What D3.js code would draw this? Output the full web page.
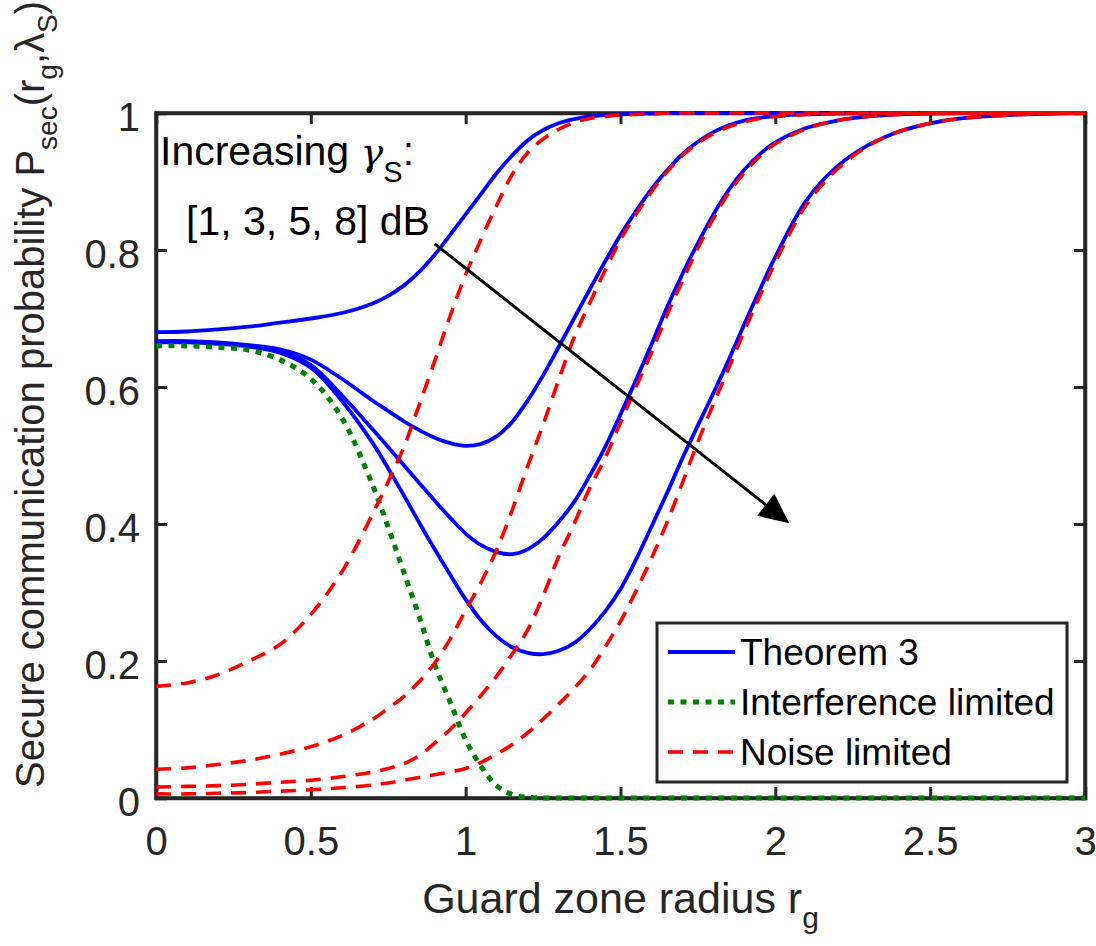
<!DOCTYPE html>
<html><head><meta charset="utf-8">
<script src="https://cdn.jsdelivr.net/npm/d3@7"></script>
<style>body{margin:0;background:#fff}</style>
</head><body>
<svg id="chart" width="1096" height="946"></svg>
<script>
// Guard zone radius grid (x values)
const rg = [0, 0.1, 0.2, 0.3, 0.4, 0.5, 0.6, 0.7, 0.75, 0.8, 0.85, 0.9, 0.95, 1.0, 1.05, 1.1, 1.15, 1.2, 1.25, 1.3,
            1.35, 1.4, 1.45, 1.5, 1.55, 1.6, 1.65, 1.7, 1.75, 1.8, 1.85, 1.9, 1.95, 2.0, 2.1, 2.2, 2.3, 2.4, 2.5, 2.6, 2.8, 3.0];

// Theorem 3 (solid blue), gamma_S = 1, 3, 5, 8 dB
const thm3_1dB = [0.680,0.681,0.684,0.688,0.694,0.700,0.708,0.722,0.733,0.748,0.768,0.793,0.822,0.852,0.882,0.912,0.938,0.960,0.975,0.985,
                  0.991,0.995,0.997,0.998,0.999,0.999,1,1,1,1,1,1,1,1,1,1,1,1,1,1,1,1];
const thm3_3dB = [0.667,0.667,0.665,0.661,0.655,0.640,0.612,0.580,0.565,0.550,0.537,0.526,0.518,0.514,0.517,0.528,0.549,0.580,0.617,0.658,
                  0.700,0.742,0.783,0.822,0.857,0.889,0.916,0.940,0.958,0.972,0.982,0.989,0.993,0.996,0.998,0.999,1,1,1,1,1,1];
const thm3_5dB = [0.666,0.666,0.664,0.660,0.652,0.632,0.588,0.538,0.512,0.486,0.460,0.434,0.409,0.386,0.369,0.359,0.356,0.363,0.379,0.403,
                  0.432,0.470,0.512,0.560,0.610,0.662,0.716,0.765,0.810,0.852,0.888,0.917,0.940,0.957,0.978,0.989,0.995,0.998,0.999,1,1,1];
const thm3_8dB = [0.665,0.665,0.663,0.659,0.650,0.628,0.580,0.518,0.481,0.442,0.402,0.363,0.326,0.290,0.259,0.236,0.220,0.212,0.210,0.215,
                  0.226,0.246,0.272,0.305,0.348,0.396,0.445,0.496,0.544,0.591,0.640,0.692,0.742,0.790,0.872,0.922,0.953,0.973,0.985,0.992,0.998,1.0];

// Interference limited (dotted green)
const interf = [0.660,0.660,0.658,0.654,0.640,0.612,0.555,0.456,0.395,0.330,0.265,0.195,0.140,0.085,0.046,0.018,0.005,0.001,0,0,
                0,0,0,0,0,0,0,0,0,0,0,0,0,0,0,0,0,0,0,0,0,0];

// Noise limited (dashed red), gamma_S = 1, 3, 5, 8 dB
const noise_1dB = [0.163,0.168,0.180,0.200,0.224,0.268,0.330,0.415,0.462,0.512,0.574,0.638,0.704,0.764,0.816,0.865,0.910,0.942,0.962,0.976,
                   0.986,0.992,0.995,0.997,0.998,0.999,1,1,1,1,1,1,1,1,1,1,1,1,1,1,1,1];
const noise_3dB = [0.042,0.044,0.049,0.055,0.064,0.075,0.091,0.115,0.131,0.148,0.170,0.197,0.232,0.274,0.315,0.362,0.420,0.484,0.545,0.610,
                   0.672,0.722,0.770,0.815,0.852,0.885,0.914,0.938,0.956,0.970,0.980,0.987,0.992,0.995,0.998,0.999,1,1,1,1,1,1];
const noise_5dB = [0.016,0.017,0.018,0.020,0.023,0.026,0.031,0.038,0.043,0.050,0.062,0.080,0.100,0.124,0.150,0.178,0.210,0.245,0.295,0.352,
                   0.400,0.452,0.496,0.548,0.600,0.650,0.705,0.755,0.803,0.846,0.884,0.913,0.937,0.955,0.977,0.989,0.995,0.998,0.999,1,1,1];
const noise_8dB = [0.006,0.006,0.007,0.008,0.010,0.012,0.015,0.019,0.022,0.026,0.030,0.034,0.038,0.043,0.052,0.064,0.078,0.095,0.115,0.137,
                   0.160,0.186,0.220,0.258,0.302,0.350,0.402,0.460,0.520,0.575,0.628,0.682,0.733,0.782,0.866,0.918,0.952,0.973,0.985,0.992,0.998,1.0];

const xTicks = [0, 0.5, 1, 1.5, 2, 2.5, 3];
const xTickLabels = ["0", "0.5", "1", "1.5", "2", "2.5", "3"];
const yTicks = [0, 0.2, 0.4, 0.6, 0.8, 1];
const yTickLabels = ["0", "0.2", "0.4", "0.6", "0.8", "1"];

const legendLabels = ["Theorem 3", "Interference limited", "Noise limited"];
// annotation arrow (data coordinates): start and end
const arrowFrom = [0.90, 0.809];
const arrowTo = [2.045, 0.401];

const FONT = "'Liberation Sans', Arial, Helvetica, sans-serif";
const AX = "#262626";
const svg = d3.select("#chart");
const L = 156, R = 1085, T = 113, B = 798;
const x = d3.scaleLinear().domain([0, 3]).range([L, R]);
const y = d3.scaleLinear().domain([0, 1]).range([B, T]);

svg.append("rect").attr("width", 1096).attr("height", 946).attr("fill", "#fff");

// axes
const tickLen = 11;
const gB = svg.append("g").attr("transform", `translate(0,${B})`)
  .call(d3.axisBottom(x).tickValues(xTicks).tickFormat((d, i) => xTickLabels[i]).tickSize(-tickLen).tickPadding(29));
const gT = svg.append("g").attr("transform", `translate(0,${T})`)
  .call(d3.axisTop(x).tickValues(xTicks).tickFormat("").tickSize(-tickLen));
const gL = svg.append("g").attr("transform", `translate(${L},0)`)
  .call(d3.axisLeft(y).tickValues(yTicks).tickFormat((d, i) => yTickLabels[i]).tickSize(-tickLen).tickPadding(16));
const gR = svg.append("g").attr("transform", `translate(${R},0)`)
  .call(d3.axisRight(y).tickValues(yTicks).tickFormat("").tickSize(-tickLen));
[gB, gT, gL, gR].forEach(g => {
  g.select(".domain").attr("stroke", AX).attr("stroke-width", 3.5);
  g.selectAll(".tick line").attr("stroke", AX).attr("stroke-width", 3);
  g.selectAll(".tick text").attr("fill", AX).attr("font-size", 40).attr("font-family", FONT);
});
gL.selectAll(".tick text").attr("dy", "0.43em");
gB.selectAll(".tick text").attr("dy", "0.71em");
svg.append("rect").attr("x", L).attr("y", T).attr("width", R - L).attr("height", B - T)
  .attr("fill", "none").attr("stroke", AX).attr("stroke-width", 3.5);

// lines
const line = d3.line().x((d, i) => x(rg[i])).y(d => y(Math.min(1, d))).curve(d3.curveCatmullRom.alpha(0.5));
const blueSeries = [thm3_1dB, thm3_3dB, thm3_5dB, thm3_8dB];
const redSeries = [noise_1dB, noise_3dB, noise_5dB, noise_8dB];
const BLUE = "#0000ff", RED = "#ff0000", GREEN = "#008000";
blueSeries.forEach(s => svg.append("path").attr("d", line(s)).attr("fill", "none")
  .attr("stroke", BLUE).attr("stroke-width", 3.8));
svg.append("path").attr("d", line(interf)).attr("fill", "none")
  .attr("stroke", GREEN).attr("stroke-width", 5).attr("stroke-dasharray", "6,6.5");
redSeries.forEach(s => svg.append("path").attr("d", line(s)).attr("fill", "none")
  .attr("stroke", RED).attr("stroke-width", 3.6).attr("stroke-dasharray", "15,10"));

// annotation text
const ann1 = svg.append("text").attr("x", 160).attr("y", 165).attr("font-size", 41).attr("font-family", FONT).attr("fill", "#000");
ann1.append("tspan").text("Increasing ");
ann1.append("tspan").attr("font-family", "'DejaVu Serif', 'Liberation Serif', serif").attr("font-style", "italic").attr("font-size", 38).text("γ");
ann1.append("tspan").attr("font-size", 29).attr("dy", 17).text("S");
ann1.append("tspan").attr("dy", -17).text(":");
svg.append("text").attr("x", 186).attr("y", 235).attr("font-size", 41).attr("font-family", FONT).attr("fill", "#000")
  .text("[1, 3, 5, 8] dB");

// arrow
const x1 = x(arrowFrom[0]), y1 = y(arrowFrom[1]), x2 = x(arrowTo[0]), y2 = y(arrowTo[1]);
const ang = Math.atan2(y2 - y1, x2 - x1), hl = 30, hw = 14;
const bx = x2 - hl * Math.cos(ang), by = y2 - hl * Math.sin(ang);
svg.append("line").attr("x1", x1).attr("y1", y1).attr("x2", bx).attr("y2", by)
  .attr("stroke", "#000").attr("stroke-width", 3);
svg.append("path").attr("d", `M${x2},${y2}L${bx - hw * Math.sin(ang)},${by + hw * Math.cos(ang)}L${bx + hw * Math.sin(ang)},${by - hw * Math.cos(ang)}Z`)
  .attr("fill", "#000");

// axis labels
const xl = svg.append("text").attr("x", (L + R) / 2).attr("y", 913).attr("text-anchor", "middle")
  .attr("font-size", 43).attr("font-family", FONT).attr("fill", AX);
xl.append("tspan").text("Guard zone radius r");
xl.append("tspan").attr("font-size", 30).attr("dy", 15).text("g");

const yl = svg.append("text").attr("transform", "translate(44,788) rotate(-90)")
  .attr("font-size", 40).attr("font-family", FONT).attr("fill", AX);
yl.append("tspan").text("Secure communication probability P");
yl.append("tspan").attr("font-size", 28).attr("dy", 13).text("sec");
yl.append("tspan").attr("dy", -13).text("(r");
yl.append("tspan").attr("font-size", 28).attr("dy", 13).text("g");
yl.append("tspan").attr("dy", -13).text(",λ");
yl.append("tspan").attr("font-size", 28).attr("dy", 13).text("S");
yl.append("tspan").attr("dy", -13).text(")");

// legend
const lg = svg.append("g");
lg.append("rect").attr("x", 657).attr("y", 623).attr("width", 410).attr("height", 159)
  .attr("fill", "#fff").attr("stroke", AX).attr("stroke-width", 3);
const legStyles = [
  {c: BLUE, w: 3.8, dash: null},
  {c: GREEN, w: 5, dash: "6,6.5"},
  {c: RED, w: 3.6, dash: "15,10"}
];
legendLabels.forEach((lab, i) => {
  const yy = 652 + i * 50;
  const ln = lg.append("line").attr("x1", 668).attr("x2", 735).attr("y1", yy).attr("y2", yy)
    .attr("stroke", legStyles[i].c).attr("stroke-width", legStyles[i].w);
  if (legStyles[i].dash) ln.attr("stroke-dasharray", legStyles[i].dash);
  lg.append("text").attr("x", 740).attr("y", yy + 13).attr("font-size", 37).attr("font-family", FONT)
    .attr("fill", "#000").text(lab);
});
</script>
</body></html>
